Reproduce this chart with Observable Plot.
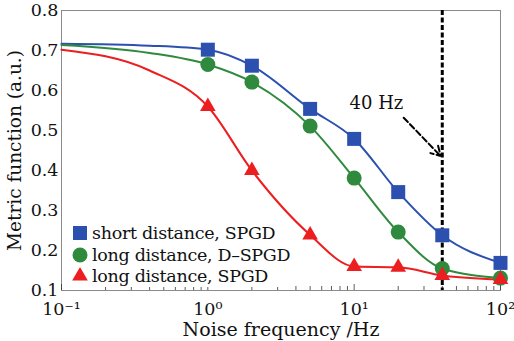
<!DOCTYPE html>
<html>
<head>
<meta charset="utf-8">
<script src="https://cdn.jsdelivr.net/npm/d3@7"></script>
<script src="https://cdn.jsdelivr.net/npm/@observablehq/plot@0.6"></script>
<style>
  html, body { margin: 0; padding: 0; background: #fff; }
  #wrap { position: relative; width: 514px; height: 341px; font-family: "DejaVu Serif", serif; }
  #wrap svg text, #wrap svg { font-family: "DejaVu Serif", serif !important; }
  #legend { position: absolute; left: 69px; top: 222px; background: #fff; font-size: 17.5px; letter-spacing: -0.3px; color: #111; padding: 0 2px; }
  #legend div { display: flex; align-items: center; white-space: nowrap; height: 21.8px; }
  #legend svg { margin-right: 3px; }
</style>
</head>
<body>
<div id="wrap"><div id="legend"></div></div>
<script>
// Data
const freq = [0.1, 0.4, 1, 2, 5, 10, 20, 40, 100];
const marked = [false, false, true, true, true, true, true, true, true];
const shortSPGD = [0.717, 0.712, 0.702, 0.662, 0.554, 0.479, 0.346, 0.238, 0.169];
const longDSPGD = [0.714, 0.694, 0.665, 0.621, 0.511, 0.381, 0.246, 0.155, 0.131];
const longSPGD  = [0.702, 0.650, 0.560, 0.400, 0.239, 0.160, 0.158, 0.1375, 0.1275];
const seriesNames = ["short distance, SPGD", "long distance, D\u2013SPGD", "long distance, SPGD"];
const seriesColors = ["#2b50b0", "#2f8a3e", "#ec1e1f"];
const seriesSymbols = ["square", "circle", "triangle"];
const seriesR = [7.9, 7.5, 5.8];
const xTicks = [0.1, 1, 10, 100];
const xTickLabels = ["10\u207B\u00B9", "10\u2070", "10\u00B9", "10\u00B2"];
const yTicks = [0.1, 0.2, 0.3, 0.4, 0.5, 0.6, 0.7, 0.8];
const markerFreq = 40;
const annotationText = "40 Hz";
const annotationTextPos = {x: 14.2, y: 0.567};
const annotationArrow = {x1: 21.8, y1: 0.532, x2: 39, y2: 0.436};

const allSeries = [shortSPGD, longDSPGD, longSPGD];
const rows = [];
allSeries.forEach((vals, s) => vals.forEach((v, i) => rows.push({s, x: freq[i], y: v, marked: marked[i]})));

const minorTicks = [];
for (const dec of [0.1, 1, 10]) for (let k = 2; k <= 9; k++) minorTicks.push(+(dec * k).toPrecision(3));
const xLabelOf = new Map(xTicks.map((t, i) => [t, xTickLabels[i]]));

const font = '"DejaVu Serif", serif';
const marks = [
  Plot.frame({stroke: "#8a8a8a", strokeWidth: 1}),
  Plot.tickX(minorTicks, {x: d => d, insetTop: 276, stroke: "#333", strokeWidth: 0.8}),
  Plot.tickX(xTicks, {x: d => d, insetTop: 274, stroke: "#333", strokeWidth: 0.8}),
  Plot.axisX({ticks: xTicks, tickFormat: d => xLabelOf.get(d), tickSize: 0, tickPadding: 12, fontSize: 17.5, fill: "#111", fontFamily: font}),
  Plot.axisY({ticks: yTicks, tickFormat: d => d.toFixed(1), tickSize: 0, tickPadding: 3, fontSize: 17.5, fill: "#111", fontFamily: font}),
  Plot.ruleX([markerFreq], {stroke: "#000", strokeWidth: 3, strokeDasharray: "5,2.5"})
];
allSeries.forEach((vals, s) => {
  const data = rows.filter(r => r.s === s);
  marks.push(Plot.line(data, {x: "x", y: "y", stroke: seriesColors[s], strokeWidth: 2, curve: "monotone-x"}));
});
allSeries.forEach((vals, s) => {
  const data = rows.filter(r => r.s === s && r.marked);
  marks.push(Plot.dot(data, {x: "x", y: "y", fill: seriesColors[s], stroke: "none", symbol: seriesSymbols[s], r: seriesR[s]}));
});
marks.push(
  Plot.arrow([annotationArrow], {x1: "x1", y1: "y1", x2: "x2", y2: "y2", stroke: "#000", strokeWidth: 2, strokeDasharray: "6,3", headLength: 8, bend: 0}),
  Plot.text([annotationTextPos], {x: "x", y: "y", text: () => annotationText, fontSize: 18, fill: "#111", fontFamily: font}),
  Plot.text(["Metric function (a.u.)"], {frameAnchor: "left", textAnchor: "middle", lineAnchor: "middle", dx: -46, rotate: -90, fontSize: 18.5, fill: "#111", fontFamily: font}),
  Plot.text(["Noise frequency /Hz"], {frameAnchor: "bottom", lineAnchor: "middle", dy: 39, fontSize: 19, fill: "#111", fontFamily: font})
);

const chart = Plot.plot({
  width: 514,
  height: 341,
  marginLeft: 61,
  marginRight: 14,
  marginTop: 10,
  marginBottom: 51,
  style: {fontFamily: font, background: "#fff", overflow: "visible"},
  x: {type: "log", domain: [0.1, 100]},
  y: {domain: [0.1, 0.8]},
  marks
});
document.getElementById("wrap").prepend(chart);

// Legend (HTML overlay, white background as in the reference)
const legend = document.getElementById("legend");
seriesNames.forEach((name, s) => {
  const row = document.createElement("div");
  const sym = d3.symbol(s === 0 ? d3.symbolSquare : s === 1 ? d3.symbolCircle : d3.symbolTriangle, Math.PI * seriesR[s] ** 2)();
  row.innerHTML = `<svg width="18" height="18" viewBox="-9 -9 18 18"><path d="${sym}" fill="${seriesColors[s]}"/></svg><span>${name}</span>`;
  legend.appendChild(row);
});
</script>
</body>
</html>
